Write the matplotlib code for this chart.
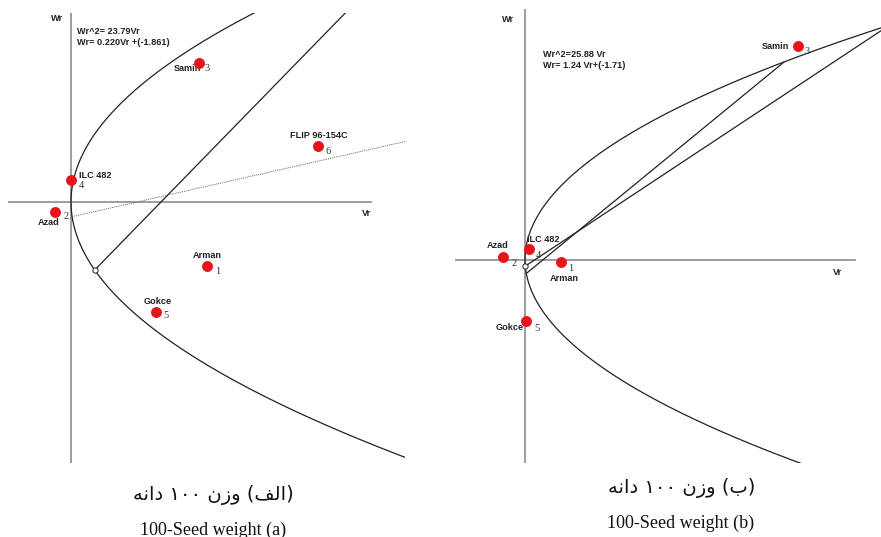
import numpy as np
import matplotlib
matplotlib.use('Agg')
import matplotlib.pyplot as plt

# ---- panel (a): 100-seed weight, Wr/Vr graph ----
names_a = ['Arman', 'Azad', 'Samin', 'ILC 482', 'Gokce', 'FLIP 96-154C']
ids_a = ['1', '2', '3', '4', '5', '6']
vr_a = [17.4, -2.05, 16.4, 0.0, 10.9, 31.7]
wr_a = [-8.0, -1.3, 17.4, 2.75, -13.75, 7.0]
k_a = 23.79                  # Wr^2 = k * Vr
slope_a, icpt_a = 0.220, -1.861
circ_a = -8.5                # Wr where the unit-slope line starts

# ---- panel (b) ----
names_b = ['Arman', 'Azad', 'Samin', 'ILC 482', 'Gokce']
ids_b = ['1', '2', '3', '4', '5']
vr_b = [2.7, -1.65, 20.5, 0.3, 0.08]
wr_b = [-0.3, 0.3, 24.3, 1.2, -7.0]
k_b = 25.88
slope_b, icpt_b = 1.24, -1.71
circ_b = -0.75

W, H = 881, 537
fig = plt.figure(figsize=(W / 100, H / 100), dpi=100)
fig.patch.set_facecolor('white')

AXC = '#8c8c8c'
RED = '#e8141c'
lab_font = dict(family='Liberation Sans', weight='bold', size=6.6, color='#222222')
num_font = dict(family='Liberation Serif', size=7.5, color='#333333')


def make_axes(box, origin, sx, sy):
    # box = (x0, x1, y0, y1) in image pixels, origin = pixel of (0, 0), sx/sy = pixels per unit
    x0, x1, y0, y1 = box
    ox, oy = origin
    ax = fig.add_axes([x0 / W, (H - y1) / H, (x1 - x0) / W, (y1 - y0) / H])
    ax.set_xlim((x0 - ox) / sx, (x1 - ox) / sx)
    ax.set_ylim((oy - y1) / sy, (oy - y0) / sy)
    ax.axis('off')
    return ax


def roots(k, m, c):
    # intersections of Wr = m*Vr + c with Wr^2 = k*Vr, returned as Wr values
    d = np.sqrt(1 - 4 * (m / k) * c)
    return (1 - d) / (2 * m / k), (1 + d) / (2 * m / k)


def draw_points(ax, vr, wr, names, ids, offs):
    ax.scatter(vr, wr, s=62, color=RED, zorder=5, linewidths=0)
    for x, y, n, i, (nx, ny, ha, ix, iy) in zip(vr, wr, names, ids, offs):
        ax.annotate(n, (x, y), xytext=(nx, ny), textcoords='offset pixels',
                    ha=ha, va='center', **lab_font)
        ax.annotate(i, (x, y), xytext=(ix, iy), textcoords='offset pixels',
                    ha='center', va='center', **num_font)


# ================= panel (a) =================
ax = make_axes((8, 405, 13, 463), (71, 202), 7.8, 8.0)
ylo, yhi = ax.get_ylim()
xlo, xhi = ax.get_xlim()
ax.plot([xlo, (371 - 71) / 7.8], [0, 0], color=AXC, lw=1.2)
ax.axvline(0, color=AXC, lw=1.2)

w = np.linspace(ylo - 2, yhi + 2, 400)
ax.plot(w ** 2 / k_a, w, color='#222222', lw=0.9)

w0, _ = roots(k_a, slope_a, icpt_a)
ax.plot([w0 ** 2 / k_a, xhi], [w0, slope_a * xhi + icpt_a],
        color='#666666', lw=0.7, ls=(0, (1, 1)))

c = circ_a - circ_a ** 2 / k_a
v0 = circ_a ** 2 / k_a
ax.plot([v0, v0 + 60], [circ_a, circ_a + 60], color='#222222', lw=0.9)
ax.plot([v0], [circ_a], 'o', ms=3.8, mfc='white', mec='#222222', mew=0.7, zorder=6)

offs_a = [(1, 11, 'center', 11, -5), (-6.5, -10.5, 'center', 11, -4.5),
          (2, -6, 'right', 8, -6), (8, 4, 'left', 10, -6),
          (1.5, 10, 'center', 10, -4), (1, 11, 'center', 10, -5)]
draw_points(ax, vr_a, wr_a, names_a, ids_a, offs_a)

ax.text(-1.8, 22.9, 'Wr', ha='center', va='center', **lab_font)
ax.text(37.9, -1.4, 'Vr', ha='center', va='center', **lab_font)
ax.text(0.77, 20.6, 'Wr^2= 23.79Vr\nWr= 0.220Vr +(-1.861)', ha='left', va='center',
        linespacing=1.25, **lab_font)

# ================= panel (b) =================
ax = make_axes((455, 881, 9, 463), (525, 259.5), 13.3, 8.8)
ylo, yhi = ax.get_ylim()
xlo, xhi = ax.get_xlim()
ax.plot([xlo, (855 - 525) / 13.3], [0, 0], color=AXC, lw=1.2)
ax.axvline(0, color=AXC, lw=1.2)

w = np.linspace(ylo - 2, yhi + 2, 400)
ax.plot(w ** 2 / k_b, w, color='#222222', lw=0.9)

w0, w1 = roots(k_b, slope_b, icpt_b)
ax.plot([w0 ** 2 / k_b, w1 ** 2 / k_b], [w0, w1], color='#222222', lw=0.9)

c = circ_b - circ_b ** 2 / k_b
u0, u1 = roots(k_b, 1.0, c)
ax.plot([u0 ** 2 / k_b, u1 ** 2 / k_b], [u0, u1], color='#222222', lw=0.9)
ax.plot([circ_b ** 2 / k_b], [circ_b], 'o', ms=3.8, mfc='white', mec='#222222', mew=0.7, zorder=6)

offs_b = [(3, -16, 'center', 10, -6), (-5.5, 11, 'center', 11, -7),
          (-8, -1, 'right', 9, -6), (-2, 9, 'left', 9, -7),
          (-16, -6, 'center', 11, -7)]
draw_points(ax, vr_b, wr_b, names_b, ids_b, offs_b)

ax.text(-1.28, 27.3, 'Wr', ha='center', va='center', **lab_font)
ax.text(23.5, -1.53, 'Vr', ha='center', va='center', **lab_font)
ax.text(1.35, 22.7, 'Wr^2=25.88 Vr\nWr= 1.24 Vr+(-1.71)', ha='left', va='center',
        linespacing=1.25, **lab_font)

# ---- captions (Persian in visual order, shaped forms) ----
dane = '\uFEEA\uFEE7\uFE8D\uFEA9'
sad = '\u06F1\u06F0\u06F0'
vazn = '\uFEE5\uFEAF\uFEED'
cap_a = dane + ' ' + sad + ' ' + vazn + ' (' + '\uFED2\uFEDF\uFE8D' + ')'
cap_b = dane + ' ' + sad + ' ' + vazn + ' (' + '\uFE8F' + ')'

fig.text(213 / W, 1 - 495 / H, cap_a, ha='center', va='center', size=14,
         family=['DejaVu Sans'], color='#111111')
fig.text(213 / W, 1 - 530 / H, '100-Seed weight (a)', ha='center', va='center',
         size=13, family='Liberation Serif', color='#111111')
fig.text(682 / W, 1 - 488 / H, cap_b, ha='center', va='center', size=14,
         family=['DejaVu Sans'], color='#111111')
fig.text(681 / W, 1 - 523 / H, '100-Seed weight (b)', ha='center', va='center',
         size=13, family='Liberation Serif', color='#111111')

fig.savefig('out.png', dpi=100, facecolor='white')
